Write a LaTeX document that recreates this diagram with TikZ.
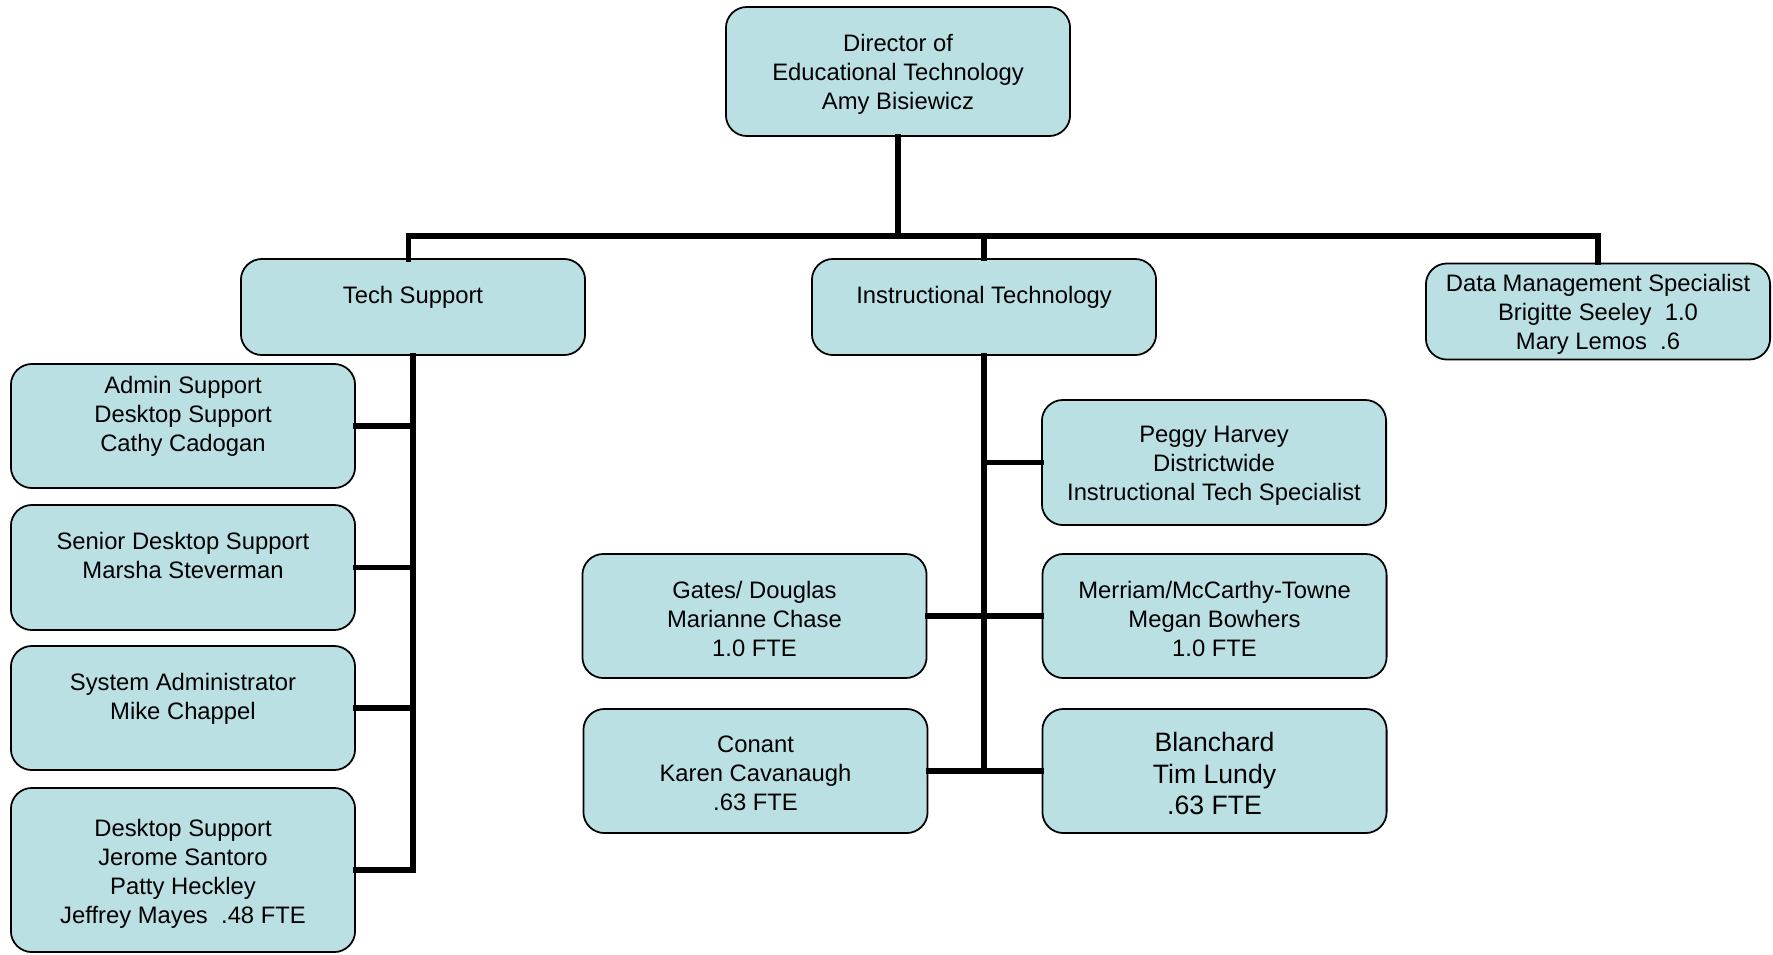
\documentclass[tikz,border=0pt]{standalone}
\usepackage{fontspec}
\setmainfont{Liberation Sans}
\definecolor{boxfill}{HTML}{BBE0E3}
\begin{document}
\begin{tikzpicture}[x=0.01cm,y=-0.01cm,
  box/.style={draw, line width=0.5pt, fill=boxfill, rounded corners=0.21cm,
    minimum width=3.44cm, minimum height=1.24cm, inner sep=0pt},
  headbox/.style={box, minimum height=0.96cm},
  lbl/.style={align=center, inner sep=0pt, yshift=-0.75pt,
    font=\fontsize{6.77pt}{8.25pt}\selectfont},
  biglbl/.style={lbl, font=\fontsize{7.57pt}{9.0pt}\selectfont},
  conn/.style={draw, line width=1.45pt, line cap=rect}]
\useasboundingbox (0,0) rectangle (1773,954);

% top
\node[box, minimum height=1.29cm, label={[lbl]center:{Director of\\Educational Technology\\Amy Bisiewicz}}] (dir) at (898,71.5) {};
\node[headbox, label={[lbl]center:{Tech Support\\~}}] (ts) at (413,307) {};
\node[headbox, label={[lbl]center:{Instructional Technology\\~}}] (it) at (984,307) {};
\node[headbox, label={[lbl]center:{Data Management Specialist\\Brigitte Seeley\ \ 1.0\\Mary Lemos\ \ .6}}] (dm) at (1598,311.5) {};

% tech support column
\node[box, label={[lbl]center:{Admin Support\\Desktop Support\\Cathy Cadogan\\~}}] (admin) at (183,426) {};
\node[box, minimum height=1.25cm, label={[lbl]center:{Senior Desktop Support\\Marsha Steverman\\~}}] (senior) at (183,567.5) {};
\node[box, label={[lbl]center:{System Administrator\\Mike Chappel\\~}}] (sysadm) at (183,708) {};
\node[box, minimum height=1.64cm, label={[lbl, yshift=-0.4pt]center:{Desktop Support\\Jerome Santoro\\Patty Heckley\\Jeffrey Mayes\ \ .48 FTE}}] (desk) at (183,870) {};

% instructional technology column
\node[box, minimum height=1.25cm, label={[lbl, yshift=-0.3pt]center:{Peggy Harvey\\Districtwide\\Instructional Tech Specialist}}] (peggy) at (1214,462.5) {};
\node[box, label={[lbl]center:{Gates/ Douglas\\Marianne Chase\\1.0 FTE}}] (gates) at (754.5,616) {};
\node[box, label={[lbl]center:{Merriam/McCarthy-Towne\\Megan Bowhers\\1.0 FTE}}] (merriam) at (1214.5,616) {};
\node[box, label={[lbl]center:{Conant\\Karen Cavanaugh\\.63 FTE}}] (conant) at (755.5,771) {};
\node[box, label={[biglbl]center:{Blanchard\\Tim Lundy\\.63 FTE}}] (blanchard) at (1214.5,771) {};

% connectors
\coordinate (bus) at (898,236);
\coordinate (tstop) at (408.5,259);
\draw[conn] (dir.south) -- (bus);
\draw[conn] (tstop) |- (bus) -| (dm.north);
\draw[conn] (it.north) -- (it.north |- bus);

\draw[conn] (ts.south) |- (desk.east);
\draw[conn] (admin.east) -- (admin.east -| ts.south);
\draw[conn] (senior.east) -- (senior.east -| ts.south);
\draw[conn] (sysadm.east) -- (sysadm.east -| ts.south);

\draw[conn] (it.south) -- (it.south |- blanchard.west);
\draw[conn] (peggy.west) -- (peggy.west -| it.south);
\draw[conn] (gates.east) -- (merriam.west);
\draw[conn] (conant.east) -- (blanchard.west);
\end{tikzpicture}
\end{document}
